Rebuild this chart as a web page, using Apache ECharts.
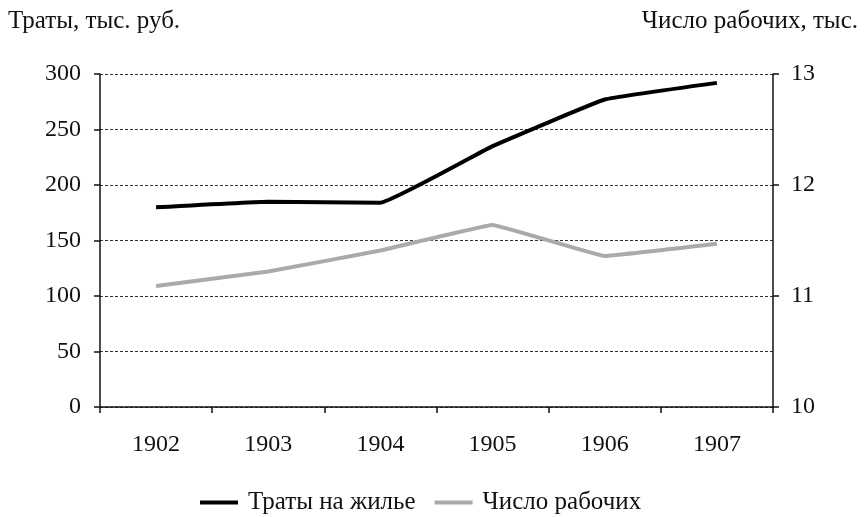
<!DOCTYPE html>
<html>
<head>
<meta charset="utf-8">
<script src="https://cdn.jsdelivr.net/npm/echarts@6/dist/echarts.min.js"></script>
<style>
  html, body { margin: 0; padding: 0; background: #fff; }
  #chart { width: 864px; height: 517px; }
</style>
</head>
<body>
<div id="chart"></div>
<script>
// годы
var years = ['1902', '1903', '1904', '1905', '1906', '1907'];
// траты на жилье, тыс. руб.
var housing = [180, 185, 184, 235, 277, 292];
// число рабочих, тыс.
var workers = [11.09, 11.22, 11.41, 11.64, 11.36, 11.47];

var leftName = 'Траты, тыс. руб.';
var rightName = 'Число рабочих, тыс.';
var seriesNames = ['Траты на жилье', 'Число рабочих'];

var font = '"Liberation Serif", "DejaVu Serif", serif';

var chart = echarts.init(document.getElementById('chart'));
var option = {
    backgroundColor: '#fff',
    animation: false,
    textStyle: { fontFamily: font, color: '#111' },
    grid: { left: 100, right: 91, top: 74, bottom: 110 },
    graphic: [
        { type: 'text', left: 8, top: 9,
          style: { text: leftName, font: '25px ' + font, fill: '#111' } },
        { type: 'text', right: 6, top: 9,
          style: { text: rightName, font: '25px ' + font, fill: '#111' } }
    ],
    legend: {
        bottom: -3,
        left: 195,
        itemWidth: 38,
        itemHeight: 4,
        itemGap: 19,
        icon: 'rect',
        textStyle: { fontFamily: font, fontSize: 25, color: '#111', padding: [0, 0, 0, 5] },
        data: seriesNames
    },
    xAxis: {
        type: 'category',
        data: years,
        boundaryGap: true,
        axisLine: { lineStyle: { color: '#111', width: 1.5 } },
        axisTick: { show: true, length: 6, inside: false, lineStyle: { color: '#111', width: 1.5 } },
        axisLabel: { margin: 26, fontSize: 24, color: '#111', fontFamily: font },
        splitLine: { show: false }
    },
    yAxis: [
        {
            type: 'value', min: 0, max: 300, interval: 50,
            axisLine: { show: true, lineStyle: { color: '#111', width: 1.5 } },
            axisTick: { show: true, length: 6, lineStyle: { color: '#111', width: 1.5 } },
            axisLabel: { margin: 19, fontSize: 24, color: '#111', fontFamily: font },
            splitLine: { show: true, lineStyle: { color: '#333', type: [3, 2], width: 1 } }
        },
        {
            type: 'value', min: 10, max: 13, interval: 1,
            axisLine: { show: true, lineStyle: { color: '#111', width: 1.5 } },
            axisTick: { show: true, length: 6, lineStyle: { color: '#111', width: 1.5 } },
            axisLabel: { margin: 18, fontSize: 24, color: '#111', fontFamily: font },
            splitLine: { show: false }
        }
    ],
    series: [
        {
            name: seriesNames[0],
            type: 'line',
            yAxisIndex: 0,
            data: housing,
            smooth: 0.08,
            symbol: 'none',
            lineStyle: { color: '#000', width: 4 },
            itemStyle: { color: '#000' }
        },
        {
            name: seriesNames[1],
            type: 'line',
            yAxisIndex: 1,
            data: workers,
            smooth: 0.06,
            symbol: 'none',
            lineStyle: { color: '#aaa', width: 4 },
            itemStyle: { color: '#aaa' }
        }
    ]
};
chart.setOption(option);
</script>
</body>
</html>
